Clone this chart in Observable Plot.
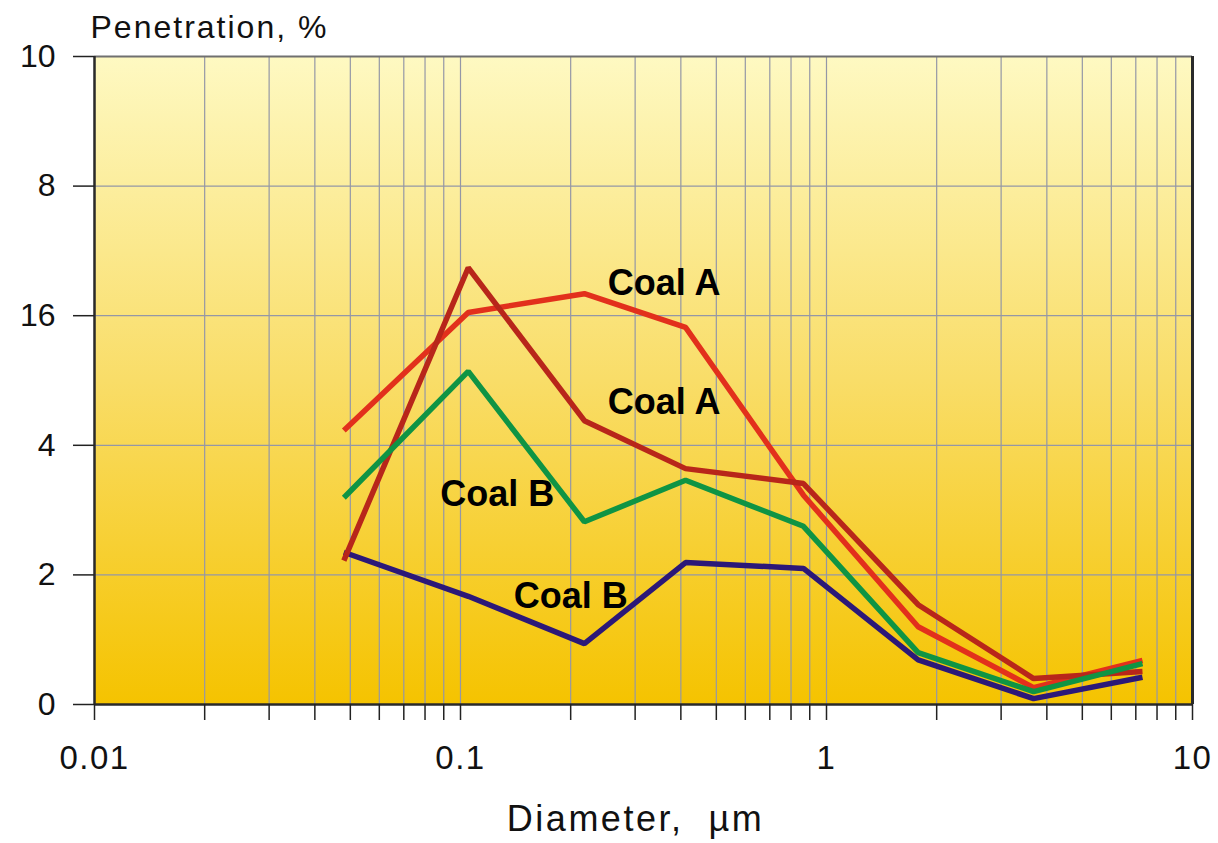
<!DOCTYPE html>
<html>
<head>
<meta charset="utf-8">
<script src="https://cdn.jsdelivr.net/npm/d3@7"></script>
<script src="https://cdn.jsdelivr.net/npm/@observablehq/plot@0.6"></script>
<style>
  body { margin: 0; background: #ffffff; }
  #chart svg { display: block; }
</style>
</head>
<body>
<div id="chart"></div>
<script>
// ---- data ----
const diameters = [0.048, 0.105, 0.218, 0.412, 0.865, 1.78, 3.68, 7.3];
const coalA1 = [4.23, 6.05, 6.34, 5.82, 3.23, 1.20, 0.26, 0.68]; // bright red
const coalA2 = [2.22, 6.74, 4.38, 3.64, 3.41, 1.54, 0.40, 0.51]; // dark red
const coalB1 = [3.19, 5.14, 2.82, 3.46, 2.75, 0.80, 0.20, 0.63]; // green
const coalB2 = [2.35, 1.67, 0.94, 2.19, 2.10, 0.69, 0.09, 0.42]; // navy

const seriesNames = ["Coal B (2)", "Coal A (1)", "Coal A (2)", "Coal B (1)"];
const seriesColors = ["#2c1878", "#e2301c", "#b8261a", "#0f9444"];

const labelTexts = ["Coal A", "Coal A", "Coal B", "Coal B"];
const labelXs = [0.36, 0.36, 0.126, 0.2];
const labelYs = [6.5, 4.66, 3.24, 1.67];

const yTicks = [0, 2, 4, 6, 8, 10];
const yTickLabels = ["0", "2", "4", "16", "8", "10"];
const xMajorTicks = [0.01, 0.1, 1, 10];
const xMajorLabels = ["0.01", "0.1", "1", "10"];

const yTitle = "Penetration, %";
const xTitle = "Diameter,\u00A0 \u00B5m";

// ---- table built from the arrays ----
const seriesValues = {
  "Coal A (1)": coalA1, "Coal A (2)": coalA2,
  "Coal B (1)": coalB1, "Coal B (2)": coalB2
};
const rows = seriesNames.flatMap(s => diameters.map((d, i) => ({series: s, d, v: seriesValues[s][i]})));
const labels = labelTexts.map((t, i) => ({t, x: labelXs[i], y: labelYs[i]}));
const xAllTicks = d3.scaleLog().domain([0.01, 10]).ticks();

function background(index, scales, values, dims) {
  const g = d3.create("svg:g");
  const grad = g.append("defs").append("linearGradient")
    .attr("id", "bgGrad").attr("x1", 0).attr("y1", 0).attr("x2", 0).attr("y2", 1);
  grad.append("stop").attr("offset", "0%").attr("stop-color", "#fef9c2");
  grad.append("stop").attr("offset", "50%").attr("stop-color", "#f9dd68");
  grad.append("stop").attr("offset", "100%").attr("stop-color", "#f5c300");
  g.append("rect")
    .attr("x", dims.marginLeft).attr("y", dims.marginTop)
    .attr("width", dims.width - dims.marginLeft - dims.marginRight)
    .attr("height", dims.height - dims.marginTop - dims.marginBottom)
    .attr("fill", "url(#bgGrad)");
  return g.node();
}

const chart = Plot.plot({
  width: 1218,
  height: 843,
  marginLeft: 94,
  marginRight: 26,
  marginTop: 56,
  marginBottom: 139,
  style: {fontFamily: "'Liberation Sans', Arial, sans-serif", fontSize: "32px", color: "#111", background: "#fff"},
  x: {type: "log", domain: [0.01, 10]},
  y: {domain: [0, 10]},
  color: {domain: seriesNames, range: seriesColors},
  marks: [
    background,
    Plot.ruleX(xAllTicks, {stroke: "#9497a6", strokeWidth: 1.2}),
    Plot.ruleY([2, 4, 6, 8], {stroke: "#9497a6", strokeWidth: 1.2}),
    Plot.ruleY([10], {stroke: "#707070", strokeWidth: 2}),
    Plot.ruleX([10], {stroke: "#2a2a2a", strokeWidth: 3}),
    Plot.ruleX([0.01], {stroke: "#2a2a2a", strokeWidth: 2.5}),
    Plot.ruleY([0], {stroke: "#2a2a2a", strokeWidth: 2.5}),
    Plot.axisX({
      ticks: xAllTicks, tickSize: 16, tickPadding: 25, stroke: "#222", strokeWidth: 1.5,
      tickFormat: d => { const k = xMajorTicks.findIndex(t => Math.abs(t - d) < 1e-9); return k >= 0 ? xMajorLabels[k] : ""; },
      label: null, fontSize: 33, fill: "#111"
    }),
    Plot.axisY({
      ticks: yTicks, tickSize: 21, tickPadding: 18, stroke: "#222", strokeWidth: 1.5,
      tickFormat: d => yTickLabels[yTicks.indexOf(d)],
      label: null, fontSize: 32, fill: "#111"
    }),
    Plot.line(rows, {
      x: "d", y: "v", z: "series", stroke: "series",
      strokeWidth: 5.5, strokeLinejoin: "miter", strokeLinecap: "butt", curve: "linear"
    }),
    Plot.text(labels, {
      x: "x", y: "y", text: "t", fontSize: 36, fontWeight: "bold", fill: "#000",
      textAnchor: "middle", lineAnchor: "middle"
    }),
    Plot.text([yTitle], {
      frameAnchor: "top-left", dx: -4, dy: -19, textAnchor: "start", lineAnchor: "bottom",
      fontSize: 32, fill: "#111"
    }),
    Plot.text([xTitle], {
      frameAnchor: "bottom", dx: -8, dy: 126, textAnchor: "middle", lineAnchor: "bottom",
      fontSize: 36, fill: "#111"
    })
  ]
});

const svgSel = d3.select(chart);
svgSel.selectAll("text").filter(function() { return this.textContent === yTitle; })
  .attr("letter-spacing", "2px");
svgSel.selectAll("text").filter(function() { return this.textContent === xTitle; })
  .attr("letter-spacing", "2.5px");
svgSel.selectAll('g[aria-label="x-axis tick label"] text').attr("letter-spacing", "1.5px");

document.getElementById("chart").appendChild(chart);
</script>
</body>
</html>
